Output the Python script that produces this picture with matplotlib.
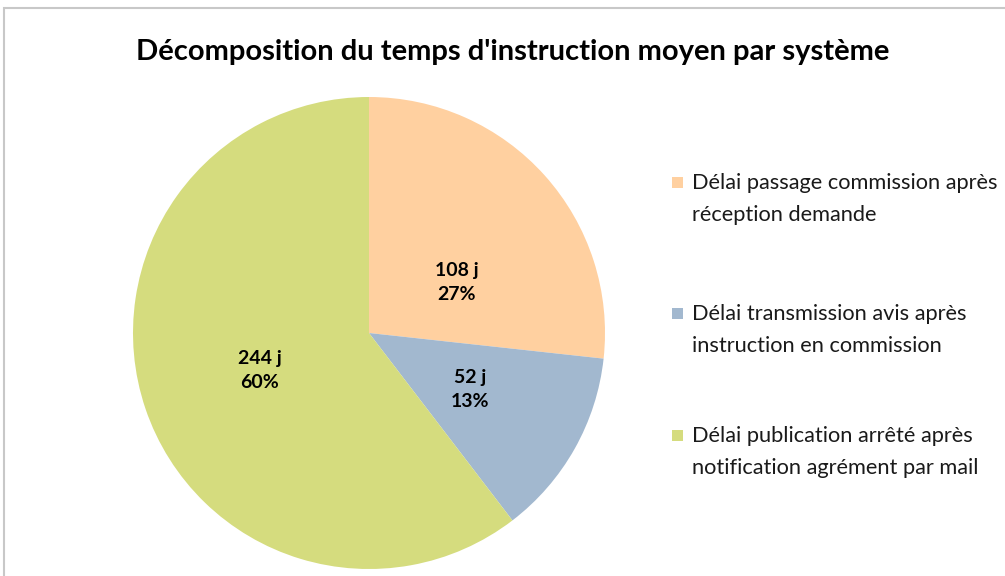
import matplotlib.pyplot as plt
from matplotlib.patches import Rectangle

# Data
labels = ['Délai passage commission après\nréception demande',
          'Délai transmission avis après\ninstruction en commission',
          'Délai publication arrêté après\nnotification agrément par mail']
days = [108, 52, 244]
colors = ['#FFD0A0', '#A2B8CF', '#D5DC7E']
title = "Décomposition du temps d'instruction moyen par système"

plt.rcParams['font.family'] = ['Lato', 'DejaVu Sans']

fig = plt.figure(figsize=(10.05, 5.76), dpi=100)

# light grey chart-area border (top and left visible)
fig.patches.append(Rectangle((4 / 1005, -0.1), 1.2, (576 - 8) / 576 + 0.1,
                             transform=fig.transFigure, fill=False,
                             edgecolor='#c8c8c8', linewidth=1.5))

ax = fig.add_axes([133 / 1005, 7 / 576, 472 / 1005, 472 / 576])
total = sum(days)


def fmt(pct):
    d = int(round(pct * total / 100.0))
    return '%d j\n%d%%' % (d, round(pct))


wedges, texts, autotexts = ax.pie(days, colors=colors, startangle=90,
                                  counterclock=False, autopct=fmt,
                                  pctdistance=0.49,
                                  textprops=dict(fontsize=14, fontweight='bold',
                                                 linespacing=1.5))
# Excel "best fit" places the first label a bit lower than the slice middle
autotexts[0].set_position((0.37, 0.215))
ax.set_xlim(-1, 1)
ax.set_ylim(-1, 1)
ax.set_aspect('equal')

fig.text(513 / 1005, 1 - 52 / 576, title, ha='center', va='center',
         fontsize=21, fontweight='bold')

# legend
leg_y = [182, 313, 435]
for lab, c, y in zip(labels, colors, leg_y):
    fig.patches.append(Rectangle((672 / 1005, 1 - (y + 6) / 576), 11 / 1005, 11 / 576,
                                 transform=fig.transFigure, facecolor=c,
                                 edgecolor='none'))
    fig.text(692 / 1005, 1 - (y - 9) / 576, lab, ha='left', va='top',
             fontsize=15.7, linespacing=1.75, color='#1a1a1a')

fig.savefig('out.png', dpi=100)
